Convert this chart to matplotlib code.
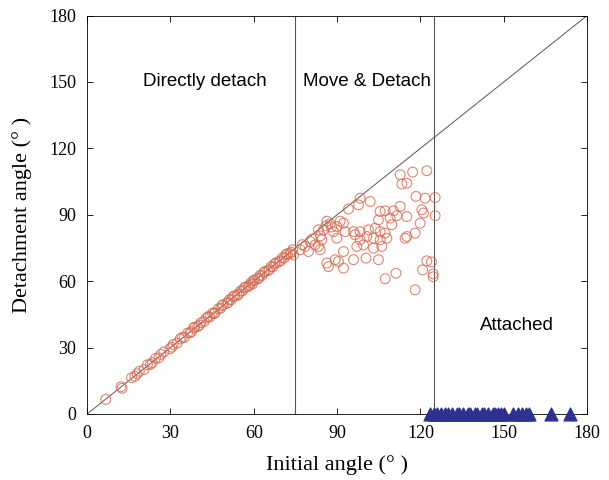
import matplotlib.pyplot as plt

plt.rcParams['font.family'] = ['Liberation Serif', 'DejaVu Serif']

# 直接脱离区 (初始角 < 75)
diag_x = [6.7, 12.2, 12.6, 16.0, 17.2, 18.8, 20.5, 21.7, 22.8, 24.6, 25.8, 27.6, 29.8,
          31.0, 32.4, 33.5, 35.0, 36.2, 37.6, 38.3, 39.8, 41.0, 42.1, 43.0, 44.2, 45.1,
          46.0, 47.2, 48.1, 49.0, 50.3, 51.2, 52.0, 53.1, 54.0, 55.2, 56.0, 57.1, 58.0,
          59.0, 59.6, 60.3, 61.4, 62.2, 63.0, 64.1, 65.0, 66.2, 67.0, 68.1, 69.0, 70.2,
          71.0, 72.1, 73.0, 74.0,
          18.0, 23.5, 26.5, 30.5, 34.2, 37.0, 38.8, 40.5, 43.6, 45.8, 48.6, 50.8, 52.6,
          54.6, 56.6, 58.5, 59.8, 61.8, 63.6, 65.6, 67.5, 69.6, 71.6, 73.5]
diag_y = [6.6, 12.3, 11.6, 16.4, 17.0, 19.3, 20.1, 22.2, 22.4, 25.1, 25.4, 28.0, 29.5,
          31.4, 32.0, 33.9, 34.6, 36.6, 37.2, 38.9, 39.5, 41.3, 41.8, 43.4, 43.9, 45.5,
          45.7, 47.5, 47.8, 49.4, 50.0, 51.6, 51.7, 53.4, 53.6, 55.5, 55.7, 57.4, 57.6,
          59.3, 58.8, 60.6, 61.1, 62.5, 62.6, 64.4, 64.7, 66.5, 66.6, 68.4, 68.7, 70.5,
          70.6, 72.4, 72.5, 74.2,
          18.2, 23.2, 26.9, 30.2, 34.6, 36.7, 39.2, 40.2, 44.0, 45.4, 49.0, 50.4, 53.0,
          54.2, 57.0, 58.1, 60.2, 61.4, 64.0, 65.2, 67.9, 69.2, 72.0, 73.1]

# 移动后脱离区 (75 ~ 125)
move_x = [74.3, 76.7, 78.5, 79.7, 80.3, 82.1, 83.3, 83.9, 84.5, 85.1, 83.3, 86.3, 87.5,
          88.7, 89.9, 91.1, 92.3, 92.9, 94.1, 95.9, 96.5, 97.1, 97.7, 98.3, 98.3, 98.3,
          99.5, 100.7, 101.3, 101.9, 103.1, 103.1, 103.7, 104.9, 105.5, 105.5, 105.5,
          106.1, 107.3, 107.3, 107.9, 109.1, 109.7, 110.3, 111.5, 112.7, 112.7, 113.3,
          114.5, 115.1, 115.1, 115.1, 117.2, 118.1, 118.4, 119.9, 120.5, 121.1, 121.7,
          122.3, 125.3, 125.3, 89.9, 92.3, 89.3, 86.3, 86.9, 90.5, 92.3, 95.9, 100.4,
          104.9, 107.3, 111.2, 118.1, 120.8, 122.3, 124.0, 124.6, 124.6, 77.5, 81.0,
          84.0, 86.0, 88.0]
move_y = [71.9, 74.2, 75.7, 73.4, 77.9, 76.4, 75.7, 74.2, 78.7, 83.2, 83.2, 87.1, 85.9,
          82.4, 84.7, 87.1, 86.2, 82.4, 92.6, 82.4, 81.0, 75.7, 94.5, 97.5, 82.4, 78.7,
          76.4, 80.2, 83.2, 96.0, 79.4, 74.9, 83.9, 87.7, 91.5, 82.4, 78.7, 75.7, 91.8,
          81.7, 79.4, 88.5, 85.5, 91.8, 89.6, 93.8, 108.1, 103.9, 79.4, 104.3, 89.2,
          80.2, 109.3, 81.7, 98.3, 86.2, 92.3, 90.8, 97.5, 109.9, 97.8, 89.6, 79.4, 73.4,
          69.7, 68.2, 66.6, 68.9, 65.9, 69.7, 70.4, 69.7, 61.1, 63.6, 56.1, 65.1, 69.2,
          68.7, 63.3, 62.0, 76.5, 79.0, 80.5, 85.0, 84.5]

# 未脱离 (detachment angle = 0)
att_x = [123.5, 125.0, 126.0, 127.5, 129.0, 130.0, 131.5, 133.0, 134.0, 135.5, 137.0,
         138.0, 139.5, 140.5, 142.0, 143.0, 144.5, 146.0, 147.0, 148.0, 149.0, 150.0,
         153.5, 155.0, 156.5, 158.0, 159.0, 167.0, 174.0]
att_y = [0] * len(att_x)

fig = plt.figure(figsize=(6.09, 4.8), dpi=100)
ax = fig.add_axes([0.143, 0.1375, 0.821, 0.83])

ax.plot([0, 180], [0, 180], color='#555555', lw=0.7, zorder=1)
ax.axvline(75, color='#555555', lw=0.8, zorder=1)
ax.axvline(125, color='#555555', lw=0.8, zorder=1)

ax.scatter(diag_x + move_x, diag_y + move_y, s=50, facecolors='none',
           edgecolors='#d9694f', linewidths=0.8, alpha=0.8, zorder=2)
ax.scatter(att_x, att_y, s=85, marker='^', color='#2e3192', clip_on=False, zorder=3)

ax.text(42.5, 150, 'Directly detach', family='Liberation Sans', fontsize=13.5,
        ha='center', va='center')
ax.text(100.8, 150, 'Move & Detach', family='Liberation Sans', fontsize=13.5,
        ha='center', va='center')
ax.text(154.8, 40, 'Attached', family='Liberation Sans', fontsize=13.5,
        ha='center', va='center')

ax.set_xlim(0, 180)
ax.set_ylim(0, 180)
ax.set_xticks(range(0, 181, 30))
ax.set_yticks(range(0, 181, 30))
ax.tick_params(direction='in', top=True, right=True, labelsize=13, length=4,
               width=0.6, pad=8)
for s in ax.spines.values():
    s.set_linewidth(0.6)

ax.set_xlabel('Initial angle (° )', fontsize=16, labelpad=9)
ax.set_ylabel('Detachment angle (° )', fontsize=16, labelpad=12)

fig.savefig('out.png', dpi=100)
